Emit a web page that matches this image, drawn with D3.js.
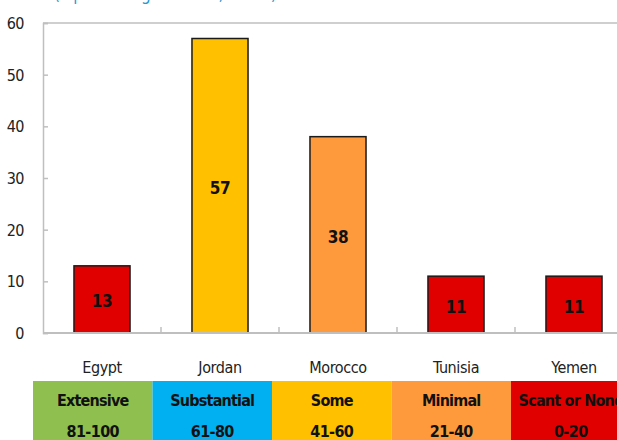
<!DOCTYPE html>
<html>
<head>
<meta charset="utf-8">
<title>Budget transparency</title>
<script src="https://d3js.org/d3.v7.min.js"></script>
<style>
    body { margin: 0; background: #fff; }
    svg text { font-family: "DejaVu Sans Condensed", "Liberation Sans Narrow", sans-serif; }
</style>
</head>
<body>
<div id="chart"></div>
<script>
    // chart data
    const countries = ["Egypt", "Jordan", "Morocco", "Tunisia", "Yemen"];
    const scores = [13, 57, 38, 11, 11];
    const barColors = ["#e00000", "#ffc000", "#ff9a3c", "#e00000", "#e00000"];
    const yTicks = [0, 10, 20, 30, 40, 50, 60];

    // legend bands
    const bandNames = ["Extensive", "Substantial", "Some", "Minimal", "Scant or None"];
    const bandRanges = ["81-100", "61-80", "41-60", "21-40", "0-20"];
    const bandColors = ["#8fbf4f", "#00b0f0", "#ffc000", "#ff9a3c", "#e00000"];

    const W = 617, H = 440;
    const margin = { top: 23, left: 43, bottom: 333 };

    const svg = d3.select("#chart").append("svg")
        .attr("width", W)
        .attr("height", H);

    // title, mostly cut off at the top (as in the source image)
    svg.append("text")
        .attr("x", 54)
        .attr("y", 0)
        .attr("fill", "#1f9bd6")
        .style("font-size", "17px")
        .style("letter-spacing", "0.6px")
        .text("(Open Budget Index, 2012)");

    const x = d3.scaleBand()
        .domain(countries)
        .range([margin.left, margin.left + 118 * countries.length])
        .paddingInner(0.525)
        .paddingOuter(0.2625);

    const y = d3.scaleLinear()
        .domain([0, 60])
        .range([margin.bottom, margin.top]);

    // frame line at the top
    svg.append("line")
        .attr("x1", margin.left).attr("x2", W)
        .attr("y1", y(60)).attr("y2", y(60))
        .attr("stroke", "#bfbfbf").attr("stroke-width", 1.5);

    // y axis
    const yAxis = svg.append("g")
        .attr("transform", "translate(" + margin.left + ",0)")
        .call(d3.axisRight(y).tickValues(yTicks).tickSize(5).tickFormat(""));
    yAxis.select(".domain").attr("stroke", "#bfbfbf").attr("stroke-width", 1.5);
    yAxis.selectAll(".tick line").attr("stroke", "#bfbfbf").attr("stroke-width", 1.5);

    svg.selectAll(".ylab")
        .data(yTicks)
        .enter()
        .append("text")
        .attr("class", "ylab")
        .attr("x", 24)
        .attr("y", d => y(d) + 6)
        .attr("text-anchor", "end")
        .attr("fill", "#222")
        .style("font-size", "16px")
        .style("letter-spacing", "-0.5px")
        .text(d => d);

    // bars
    svg.selectAll(".bar")
        .data(scores)
        .enter()
        .append("rect")
        .attr("class", "bar")
        .attr("x", (d, i) => x(countries[i]))
        .attr("y", d => y(d))
        .attr("width", x.bandwidth())
        .attr("height", d => y(0) - y(d))
        .attr("fill", (d, i) => barColors[i])
        .attr("stroke", "#1a1a1a")
        .attr("stroke-width", 1.5);

    svg.selectAll(".val")
        .data(scores)
        .enter()
        .append("text")
        .attr("class", "val")
        .attr("x", (d, i) => x(countries[i]) + x.bandwidth() / 2)
        .attr("y", d => (y(d) + y(0)) / 2 + 8)
        .attr("text-anchor", "middle")
        .attr("font-weight", "bold")
        .attr("fill", "#111")
        .style("font-size", "17px")
        .style("letter-spacing", "-0.5px")
        .text(d => d);

    // x axis with inward ticks between categories
    const step = x.step();
    const sepTicks = countries.map((c, i) => margin.left + step * (i + 1));
    svg.selectAll(".sep")
        .data(sepTicks)
        .enter()
        .append("line")
        .attr("x1", d => d).attr("x2", d => d)
        .attr("y1", y(0)).attr("y2", y(0) - 6)
        .attr("stroke", "#bfbfbf").attr("stroke-width", 1.5);

    svg.append("line")
        .attr("x1", margin.left).attr("x2", W)
        .attr("y1", y(0)).attr("y2", y(0))
        .attr("stroke", "#bfbfbf").attr("stroke-width", 2);

    svg.selectAll(".xlab")
        .data(countries)
        .enter()
        .append("text")
        .attr("class", "xlab")
        .attr("x", d => x(d) + x.bandwidth() / 2)
        .attr("y", 373)
        .attr("text-anchor", "middle")
        .attr("fill", "#222")
        .style("font-size", "16px")
        .style("letter-spacing", "-0.4px")
        .text(d => d);

    // legend strip
    const lx = d3.scaleBand()
        .domain(bandNames)
        .range([33, 33 + 119.5 * bandNames.length]);

    const legend = svg.selectAll(".band")
        .data(bandNames)
        .enter()
        .append("g")
        .attr("class", "band")
        .attr("transform", d => "translate(" + lx(d) + ",381)");

    legend.append("rect")
        .attr("width", lx.bandwidth())
        .attr("height", 59)
        .attr("fill", (d, i) => bandColors[i]);

    legend.append("text")
        .attr("x", lx.bandwidth() / 2)
        .attr("y", 25)
        .attr("text-anchor", "middle")
        .attr("font-weight", "bold")
        .attr("fill", "#111")
        .style("font-size", "16px")
        .style("letter-spacing", "-0.8px")
        .text(d => d);

    legend.append("text")
        .attr("x", lx.bandwidth() / 2)
        .attr("y", 56)
        .attr("text-anchor", "middle")
        .attr("font-weight", "bold")
        .attr("fill", "#111")
        .style("font-size", "16px")
        .style("letter-spacing", "-0.6px")
        .text((d, i) => bandRanges[i]);
</script>
</body>
</html>
